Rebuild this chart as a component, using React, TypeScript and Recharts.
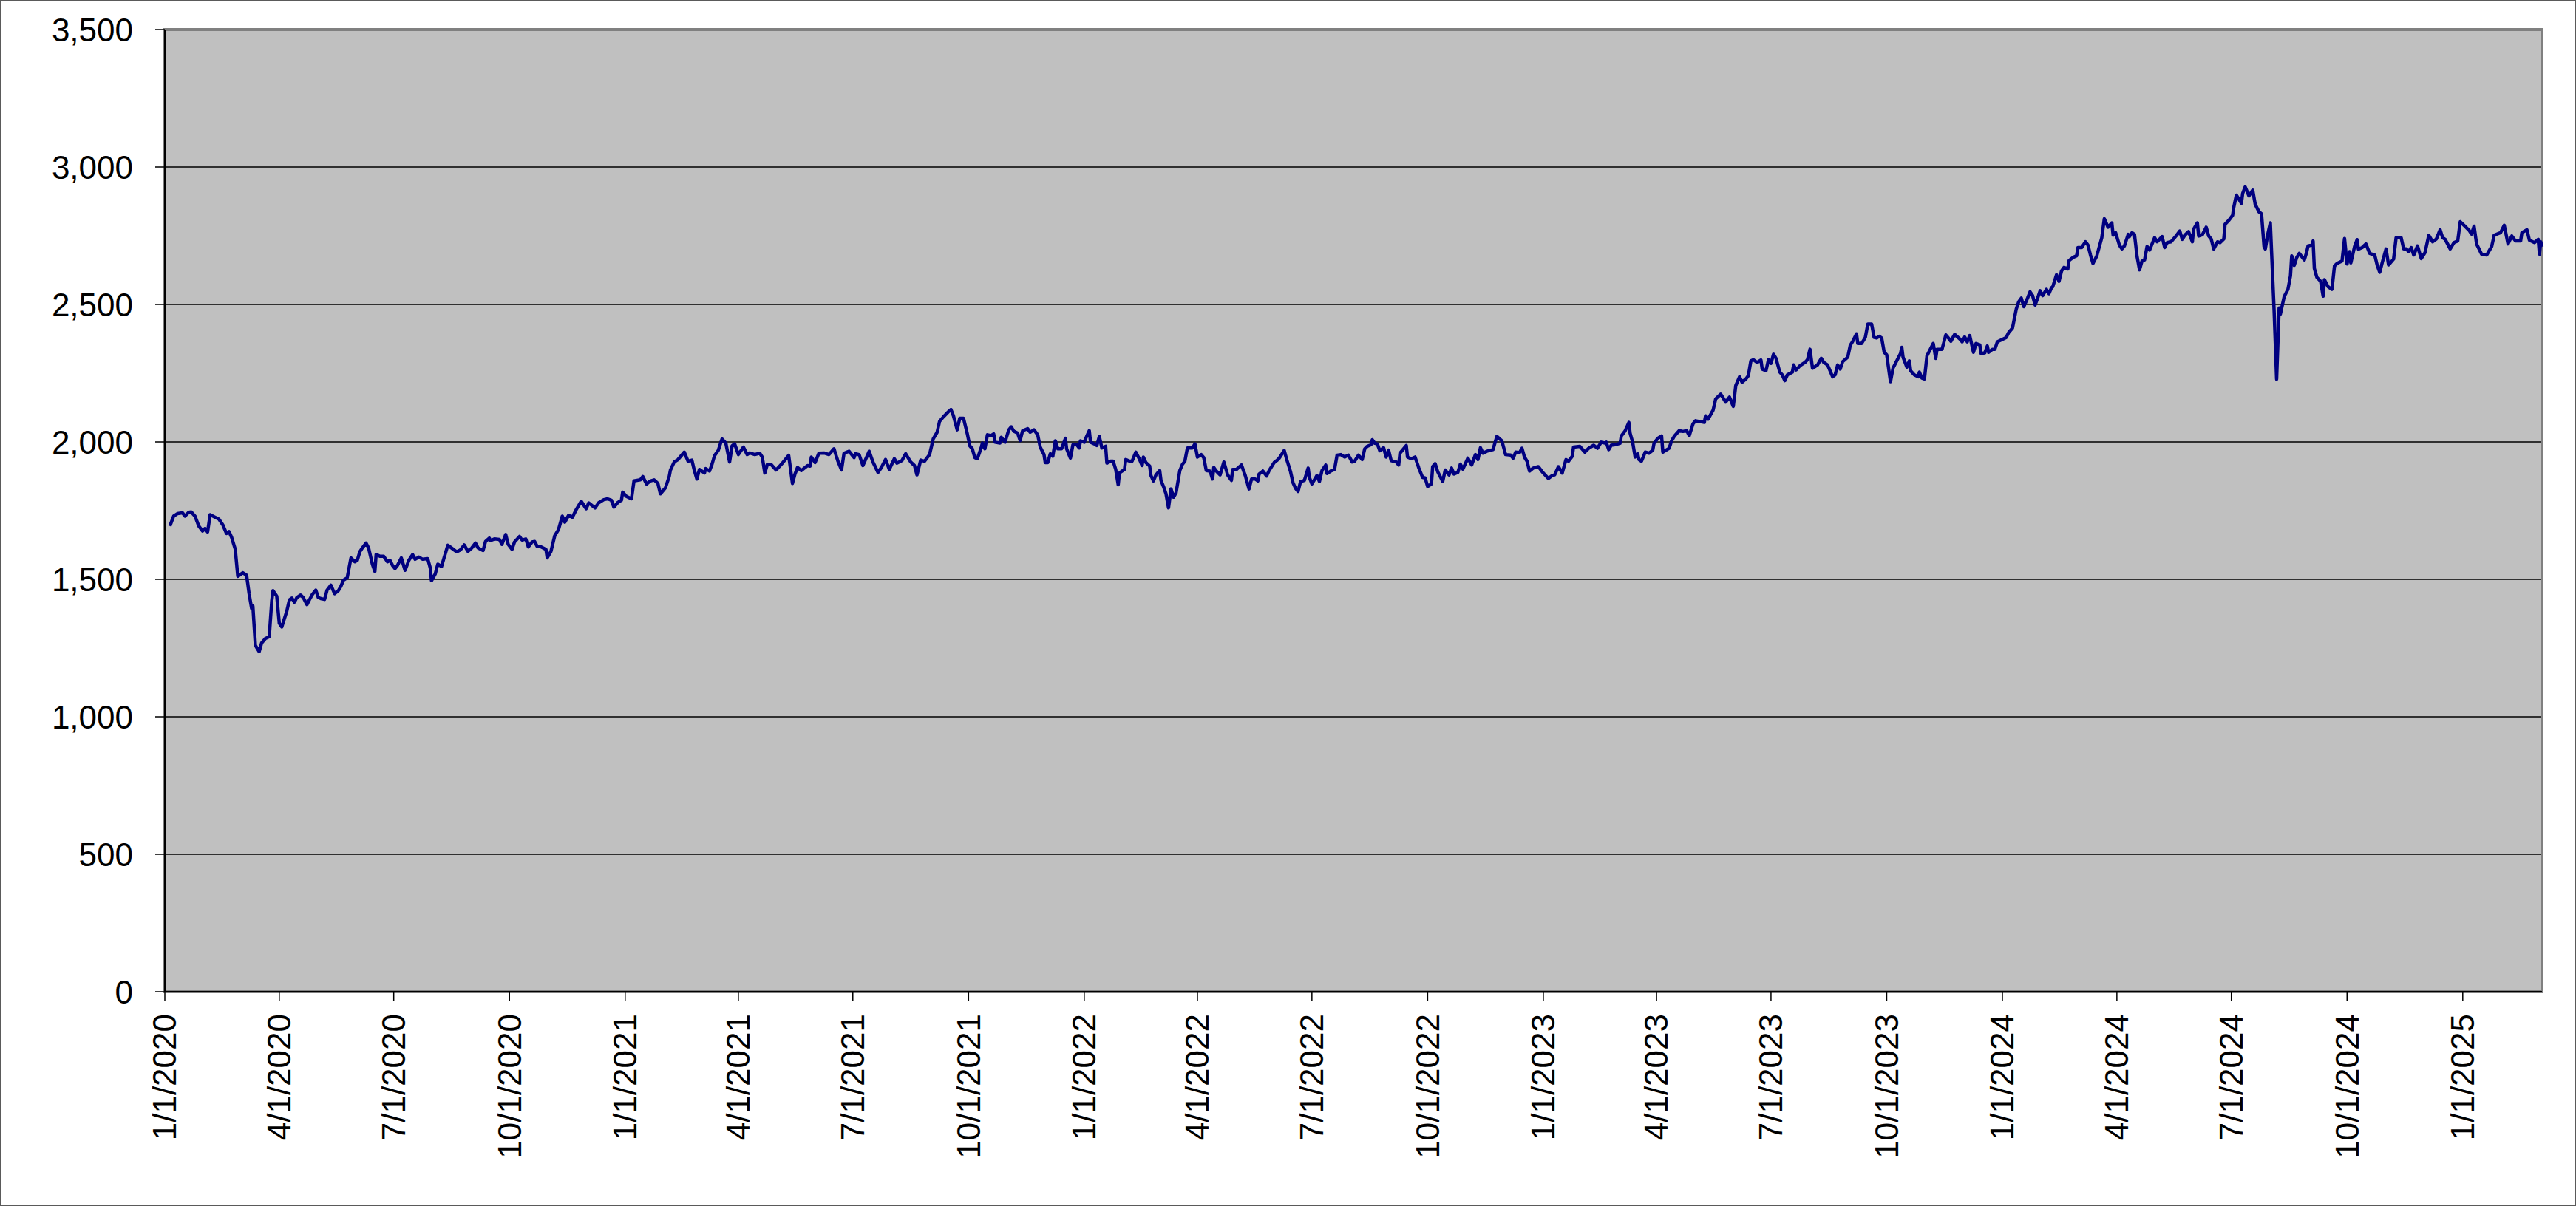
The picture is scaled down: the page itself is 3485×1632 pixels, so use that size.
import React from 'react';
import { LineChart, Line, XAxis, YAxis, CartesianGrid, ReferenceArea } from 'recharts';

// Day offsets from 1/1/2020 and index level
const seg2020: [number, number][] = [[4,1694],[7,1730],[10,1739],[14,1742],[16,1730],[19,1744],[21,1745],[24,1730],[27,1694],[30,1676],[32,1685],[34,1672],[36,1735],[40,1726],[43,1719],[46,1699],[49,1667],[51,1674],[53,1654],[56,1609],[58,1511],[62,1524],[65,1515],[67,1448],[69,1394],[70,1403],[72,1260],[75,1237],[77,1269],[80,1285],[83,1291],[85,1421],[86,1459],[89,1439],[91,1340],[93,1327],[97,1385],[99,1425],[101,1432],[103,1417],[105,1434],[108,1443],[110,1434],[113,1408],[115,1426],[117,1443],[120,1461],[122,1434],[124,1430],[127,1427],[129,1461],[132,1479],[135,1448],[138,1459],[140,1475],[142,1497],[145,1506],[148,1578],[151,1564],[153,1569],[155,1600],[157,1614],[160,1632],[162,1614],[165,1555],[167,1529],[168,1591],[171,1584],[174,1584],[177,1564],[179,1569],[181,1551],[183,1539],[185,1551],[188,1578],[191,1533],[194,1569],[197,1590],[199,1573],[202,1581],[205,1573],[209,1575],[211,1542],[212,1495],[215,1520],[217,1555],[220,1547],[222,1578],[225,1624],[228,1614],[232,1600],[235,1607],[238,1625],[241,1602],[244,1614],[247,1632],[249,1614],[253,1605],[255,1638],[258,1650],[259,1641],[262,1647],[266,1645],[268,1627],[271,1663],[273,1627],[276,1609],[278,1636],[282,1656],[284,1643],[287,1647],[289,1618],[292,1636],[294,1638],[296,1620],[299,1618],[303,1609],[304,1578],[307,1602],[310,1659],[313,1681],[316,1730],[318,1708]];

const seg2021: [number, number][] = [[321,1733],[324,1726],[327,1753],[331,1784],[335,1757],[337,1778],[342,1760],[345,1779],[349,1790],[352,1793],[355,1788],[357,1763],[360,1779],[363,1788],[364,1817],[367,1802],[371,1793],[373,1858],[378,1862],[380,1874],[383,1847],[386,1858],[389,1862],[392,1849],[394,1811],[398,1833],[401,1874],[402,1898],[405,1927],[408,1936],[413,1963],[416,1930],[419,1934],[421,1896],[423,1865],[425,1900],[429,1887],[430,1903],[433,1894],[435,1918],[437,1950],[440,1969],[443,2011],[446,1996],[449,1927],[451,1986],[453,1993],[456,1954],[460,1981],[463,1954],[465,1960],[469,1954],[473,1959],[475,1945],[477,1887],[479,1918],[482,1918],[486,1898],[491,1923],[496,1951],[499,1849],[501,1883],[503,1907],[506,1896],[511,1914],[513,1912],[514,1945],[517,1925],[520,1959],[524,1960],[528,1954],[532,1975],[535,1932],[538,1898],[540,1959],[544,1966],[548,1943],[549,1957],[552,1954],[555,1914],[560,1966],[563,1927],[567,1889],[570,1909],[573,1936],[576,1900],[580,1939],[582,1923],[586,1932],[589,1957],[593,1927],[596,1914],[598,1880],[601,1934],[604,1930],[608,1954],[611,2012],[614,2035],[616,2075],[619,2091],[623,2110],[625,2118],[627,2095],[630,2044],[632,2086],[635,2086]];

const seg2022: [number, number][] = [[638,2030],[640,1986],[642,1975],[644,1943],[646,1939],[649,1978],[650,1996],[652,1975],[654,2026],[657,2023],[659,2029],[660,1999],[664,1996],[665,2017],[668,1999],[671,2044],[673,2055],[675,2039],[678,2032],[680,2005],[682,2041],[686,2048],[688,2035],[691,2044],[694,2026],[696,1981],[699,1954],[700,1925],[702,1925],[704,1957],[706,1948],[708,2004],[710,1975],[713,1975],[716,2013],[717,1975],[720,1941],[722,1990],[725,1990],[727,1978],[728,2004],[731,1999],[732,2011],[735,2041],[736,1999],[739,1993],[741,1987],[743,2020],[745,1978],[748,1984],[749,1923],[752,1930],[754,1930],[756,1900],[758,1844],[759,1887],[763,1900],[764,1936],[767,1930],[769,1930],[772,1963],[775,1936],[777,1914],[778,1945],[780,1925],[783,1912],[784,1878],[786,1858],[788,1880],[791,1896],[792,1860],[794,1838],[796,1811],[798,1760],[800,1829],[802,1799],[804,1815],[807,1896],[809,1918],[811,1930],[813,1978],[817,1978],[819,1993],[821,1945],[824,1954],[826,1943],[828,1896],[831,1894],[833,1865],[834,1907],[836,1894],[839,1880],[842,1927],[844,1896],[845,1880],[848,1860],[849,1900],[852,1900],[856,1916],[859,1878],[862,1829],[864,1865],[867,1865],[869,1858],[870,1883],[873,1894],[876,1876],[878,1896],[882,1925],[884,1932],[886,1941],[890,1969],[892,1936],[895,1892],[897,1851],[899,1831],[901,1820],[903,1856],[906,1860],[909,1905],[910,1871],[912,1847],[916,1878],[918,1856],[920,1896],[923,1916],[924,1885],[927,1894],[930,1900],[932,1952],[935,1954],[938,1945],[941,1952],[944,1927],[946,1930],[949,1952],[952,1936],[954,1975],[956,1984]];

const seg2023: [number, number][] = [[959,1990],[960,2008],[962,1995],[964,1993],[966,1968],[969,1979],[971,1945],[973,1970],[975,1932],[979,1927],[981,1916],[982,1959],[987,1987],[988,1945],[991,1939],[994,1945],[997,1905],[1000,1871],[1002,1869],[1004,1838],[1007,1847],[1008,1910],[1010,1921],[1012,1892],[1016,1856],[1018,1898],[1021,1880],[1023,1905],[1025,1883],[1028,1889],[1030,1919],[1032,1901],[1036,1941],[1039,1916],[1042,1954],[1044,1936],[1046,1979],[1048,1959],[1051,1966],[1056,1972],[1059,2020],[1063,2004],[1066,1954],[1070,1952],[1072,1941],[1074,1963],[1077,1961],[1079,1977],[1081,1945],[1083,1930],[1085,1894],[1088,1905],[1092,1910],[1095,1892],[1100,1867],[1103,1878],[1105,1880],[1108,1910],[1111,1887],[1114,1936],[1116,1930],[1119,1948],[1120,1981],[1125,1984],[1129,1963],[1132,1977],[1136,1988],[1139,1977],[1142,1999],[1145,1996],[1146,1999],[1148,1972],[1150,1988],[1153,1990],[1157,1995],[1158,2022],[1161,2040],[1164,2071],[1165,2031],[1167,1999],[1169,1945],[1171,1957],[1172,1936],[1174,1930],[1177,1963],[1180,1959],[1183,1970],[1184,1995],[1187,2013],[1190,2022],[1191,1963],[1196,1977],[1198,2004],[1200,2020],[1204,2041],[1207,2038],[1210,2041],[1212,2023],[1215,2066],[1217,2077],[1224,2071],[1225,2095],[1227,2083],[1231,2116],[1233,2156],[1237,2174],[1241,2145],[1244,2163],[1247,2129],[1249,2205],[1252,2237],[1254,2217],[1257,2229],[1259,2241],[1261,2295],[1263,2299],[1266,2289],[1269,2298],[1270,2265],[1273,2259]];

const seg2024: [number, number][] = [[1275,2299],[1277,2286],[1279,2319],[1281,2304],[1284,2254],[1286,2244],[1288,2223],[1290,2244],[1294,2254],[1295,2280],[1297,2262],[1300,2277],[1304,2289],[1306,2299],[1308,2337],[1310,2268],[1314,2280],[1317,2304],[1319,2289],[1322,2280],[1326,2237],[1328,2244],[1330,2280],[1332,2265],[1334,2292],[1338,2308],[1340,2351],[1342,2366],[1345,2393],[1346,2358],[1349,2358],[1352,2380],[1354,2429],[1357,2429],[1359,2380],[1361,2378],[1363,2384],[1365,2378],[1367,2326],[1369,2317],[1372,2219],[1374,2268],[1377,2295],[1380,2322],[1381,2344],[1382,2308],[1385,2272],[1387,2295],[1388,2259],[1391,2244],[1394,2237],[1395,2254],[1397,2232],[1399,2229],[1401,2313],[1406,2358],[1408,2304],[1409,2337],[1413,2337],[1416,2389],[1419,2373],[1420,2366],[1423,2391],[1427,2375],[1429,2364],[1431,2382],[1433,2364],[1435,2387],[1438,2326],[1440,2358],[1443,2353],[1444,2322],[1447,2324],[1449,2349],[1450,2326],[1453,2337],[1455,2337],[1457,2364],[1461,2373],[1464,2380],[1466,2398],[1469,2414],[1472,2483],[1474,2510],[1476,2523],[1478,2492],[1481,2523],[1483,2546],[1485,2532],[1487,2498],[1489,2523],[1491,2550],[1493,2532],[1496,2555],[1498,2539],[1500,2561],[1501,2564],[1504,2608],[1506,2584],[1508,2622],[1510,2635],[1513,2629],[1514,2660],[1517,2671],[1520,2677],[1521,2707],[1524,2707],[1527,2728],[1529,2716],[1531,2680],[1533,2649],[1536,2676],[1540,2743],[1542,2812],[1545,2781],[1548,2797],[1549,2752],[1551,2761],[1554,2716],[1556,2702],[1558,2713],[1561,2755],[1562,2747],[1564,2761],[1566,2755],[1568,2676],[1570,2626],[1572,2658],[1574,2662],[1576,2711],[1578,2698],[1582,2743],[1584,2728],[1588,2747],[1590,2707],[1592,2725],[1595,2728]];

const seg2025: [number, number][] = [[1599,2749],[1602,2767],[1604,2737],[1606,2752],[1609,2765],[1612,2728],[1613,2774],[1616,2797],[1617,2749],[1620,2754],[1623,2781],[1625,2749],[1627,2738],[1629,2702],[1632,2728],[1634,2725],[1637,2738],[1638,2792],[1641,2806],[1644,2824],[1645,2855],[1647,2898],[1651,2868],[1652,2904],[1654,2928],[1657,2895],[1660,2916],[1662,2864],[1665,2837],[1667,2830],[1669,2711],[1670,2702],[1672,2756],[1674,2797],[1677,2479],[1679,2228],[1681,2487],[1682,2465],[1685,2528],[1688,2555],[1690,2604],[1691,2677],[1693,2642],[1695,2671],[1697,2686],[1701,2662],[1703,2692],[1704,2713],[1707,2716],[1708,2731],[1709,2631],[1711,2599],[1714,2584],[1716,2530],[1717,2590],[1720,2564],[1723,2555],[1725,2640],[1727,2649],[1731,2658],[1733,2740],[1735,2647],[1737,2692],[1738,2651],[1741,2711],[1743,2736],[1744,2701],[1747,2707],[1750,2720],[1753,2686],[1757,2680],[1759,2642],[1761,2617],[1763,2653],[1766,2702],[1768,2644],[1772,2665],[1774,2743],[1778,2743],[1780,2702],[1782,2702],[1784,2692],[1786,2707],[1788,2680],[1791,2713],[1794,2667],[1797,2689],[1800,2752],[1803,2728],[1806,2738],[1809,2772],[1811,2743],[1813,2737],[1817,2702],[1820,2725],[1823,2731],[1825,2801],[1828,2788],[1832,2770],[1834,2756],[1836,2785],[1838,2720],[1842,2683],[1846,2680],[1850,2711],[1852,2752],[1857,2761],[1860,2788],[1863,2720],[1866,2749],[1869,2731],[1873,2731],[1874,2761],[1878,2772],[1880,2734],[1884,2725],[1887,2737],[1888,2683],[1889,2728],[1890,2710]];

const xTickLabels = ['1/1/2020','4/1/2020','7/1/2020','10/1/2020','1/1/2021','4/1/2021','7/1/2021','10/1/2021','1/1/2022','4/1/2022','7/1/2022','10/1/2022','1/1/2023','4/1/2023','7/1/2023','10/1/2023','1/1/2024','4/1/2024','7/1/2024','10/1/2024','1/1/2025'];
const yTicks = [0, 500, 1000, 1500, 2000, 2500, 3000, 3500];
const xMaxDay = 1890;

const dayOf = (label: string) => {
  const [m, d, y] = label.split('/').map(Number);
  return Math.round((Date.UTC(y, m - 1, d) - Date.UTC(2020, 0, 1)) / 86400000);
};
const xTicks = xTickLabels.map(dayOf);
const labelByDay: Record<number, string> = {};
xTickLabels.forEach((l, i) => { labelByDay[xTicks[i]] = l; });

const data = [...seg2020, ...seg2021, ...seg2022, ...seg2023, ...seg2024, ...seg2025].map(([d, v]) => ({ d, v }));

const FONT = '"Liberation Sans", Arial, sans-serif';

const XTick = (props: any) => {
  const { x, y, payload } = props;
  return (
    <text x={x} y={y} transform={`rotate(-90 ${x} ${y})`} textAnchor="end" dy="0.35em"
      fontFamily={FONT} fontSize={44} fill="#000">
      {labelByDay[payload.value]}
    </text>
  );
};

export default function App() {
  return (
    <div style={{ position: 'absolute', left: 0, top: 0, width: 3485, height: 1632, background: '#fff' }}>
      <LineChart width={3485} height={1632} data={data} margin={{ top: 40, right: 46, bottom: 0, left: 0 }}>
        <CartesianGrid vertical={false} stroke="#000" strokeWidth={1.3} fill="#C0C0C0" fillOpacity={1} />
        <ReferenceArea x1={0} x2={xMaxDay} y1={0} y2={3500} fill="#C0C0C0" fillOpacity={0} stroke="#808080" strokeWidth={4} />
        <XAxis dataKey="d" type="number" domain={[0, xMaxDay]} ticks={xTicks} interval={0}
          height={290} tickSize={13} tickMargin={17} tick={<XTick />}
          axisLine={{ stroke: '#000', strokeWidth: 2 }} tickLine={{ stroke: '#000', strokeWidth: 1.5 }} />
        <YAxis type="number" domain={[0, 3500]} ticks={yTicks} interval={0} width={223}
          tickSize={13} tickMargin={30}
          tickFormatter={(v: number) => v.toLocaleString('en-US')}
          tick={{ fontFamily: FONT, fontSize: 44, fill: '#000' }}
          axisLine={{ stroke: '#000', strokeWidth: 2 }} tickLine={{ stroke: '#000', strokeWidth: 1.5 }} />
        <Line type="linear" dataKey="v" stroke="#000080" strokeWidth={4.5} dot={false}
          strokeLinejoin="round" isAnimationActive={false} />
      </LineChart>
      <div style={{ position: 'absolute', left: 0, top: 0, width: 3485, height: 1632, boxSizing: 'border-box', border: '2px solid #5a5a5a', pointerEvents: 'none' }} />
    </div>
  );
}
